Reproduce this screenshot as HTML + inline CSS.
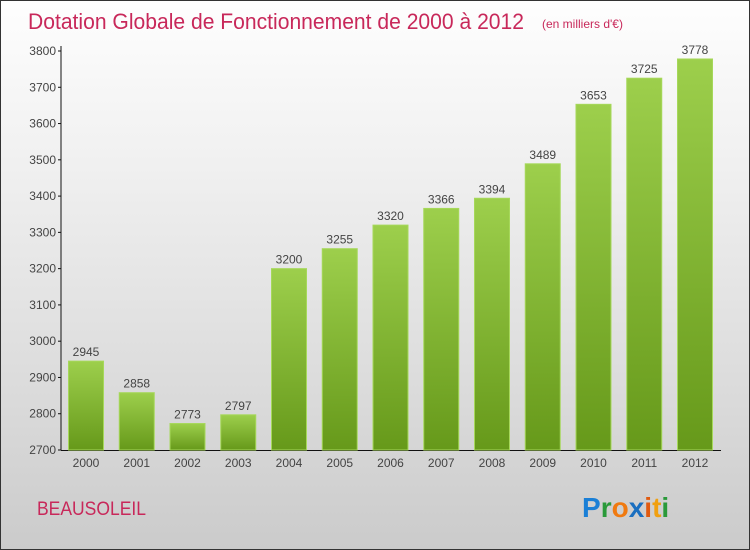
<!DOCTYPE html>
<html><head><meta charset="utf-8"><style>
body{margin:0;}
#c{width:748px;height:548px;border:1px solid #333;background:linear-gradient(#fefefe,#f0f0f0 30%,#d9d9d9 75%,#cbcbcb);position:relative;overflow:hidden;font-family:"Liberation Sans",sans-serif;}
</style></head><body>
<div id="c">
<svg width="748" height="548">
<defs><linearGradient id="g" x1="0" y1="0" x2="0" y2="1"><stop offset="0" stop-color="#9dcf4c"/><stop offset="1" stop-color="#66991a"/></linearGradient></defs>
<text x="27" y="28" font-size="22" fill="#c8285a" textLength="496" lengthAdjust="spacingAndGlyphs">Dotation Globale de Fonctionnement de 2000 à 2012</text>
<text x="541" y="27" font-size="12" fill="#c8285a">(en milliers d'€)</text>
<g id="plot"></g>
<text x="36" y="514" font-size="19" fill="#c8285a" textLength="109" lengthAdjust="spacingAndGlyphs">BEAUSOLEIL</text>
<g font-size="28" font-weight="bold" font-family="Liberation Sans, sans-serif">
<text x="581" y="516"><tspan fill="#1a7fd6">P</tspan><tspan fill="#2a9a3a">r</tspan><tspan fill="#f07a10">o</tspan><tspan fill="#1a6fc0">x</tspan><tspan fill="#e05a10">i</tspan><tspan fill="#f0a010">t</tspan><tspan fill="#2a9a3a">i</tspan></text>
</g>
</svg>
</div>
<script>
const categories=["2000","2001","2002","2003","2004","2005","2006","2007","2008","2009","2010","2011","2012"];
const values=[2945,2858,2773,2797,3200,3255,3320,3366,3394,3489,3653,3725,3778];
const ticks=[2700,2800,2900,3000,3100,3200,3300,3400,3500,3600,3700,3800];
const ns="http://www.w3.org/2000/svg";
const g=document.getElementById('plot');
const y=v=>449-(v-2700)*(449-50)/1100;
const x=i=>85+i*50.75;
function mk(t,a){const e=document.createElementNS(ns,t);for(const k in a)e.setAttribute(k,a[k]);g.appendChild(e);return e;}
let ax=mk('line',{x1:60,y1:45,x2:60,y2:449,stroke:'#111','stroke-width':1});


let bx=mk('line',{x1:60,y1:449.5,x2:720,y2:449.5,stroke:'#111','stroke-width':1});


ticks.forEach(t=>{
 const tk=mk('line',{x1:57,x2:60,y1:y(t),y2:y(t),stroke:'#111'});
 
 
 const l=mk('text',{x:55,y:y(t)+4,'font-size':12,fill:'#444','text-anchor':'end'});
 l.textContent=t;
 
 
});
values.forEach((v,i)=>{
 const r=mk('rect',{x:x(i)-17.5,y:y(v),width:35,height:449-y(v),fill:'url(#g)',stroke:'#a6d85a','stroke-width':1});
 
 
 const l=mk('text',{x:x(i),y:y(v)-5,'font-size':12,fill:'#444','text-anchor':'middle'});
 l.textContent=v;
 
 
 const c=mk('text',{x:x(i),y:466,'font-size':12,fill:'#444','text-anchor':'middle'});
 c.textContent=categories[i];
 
 
});
</script>
</body></html>
